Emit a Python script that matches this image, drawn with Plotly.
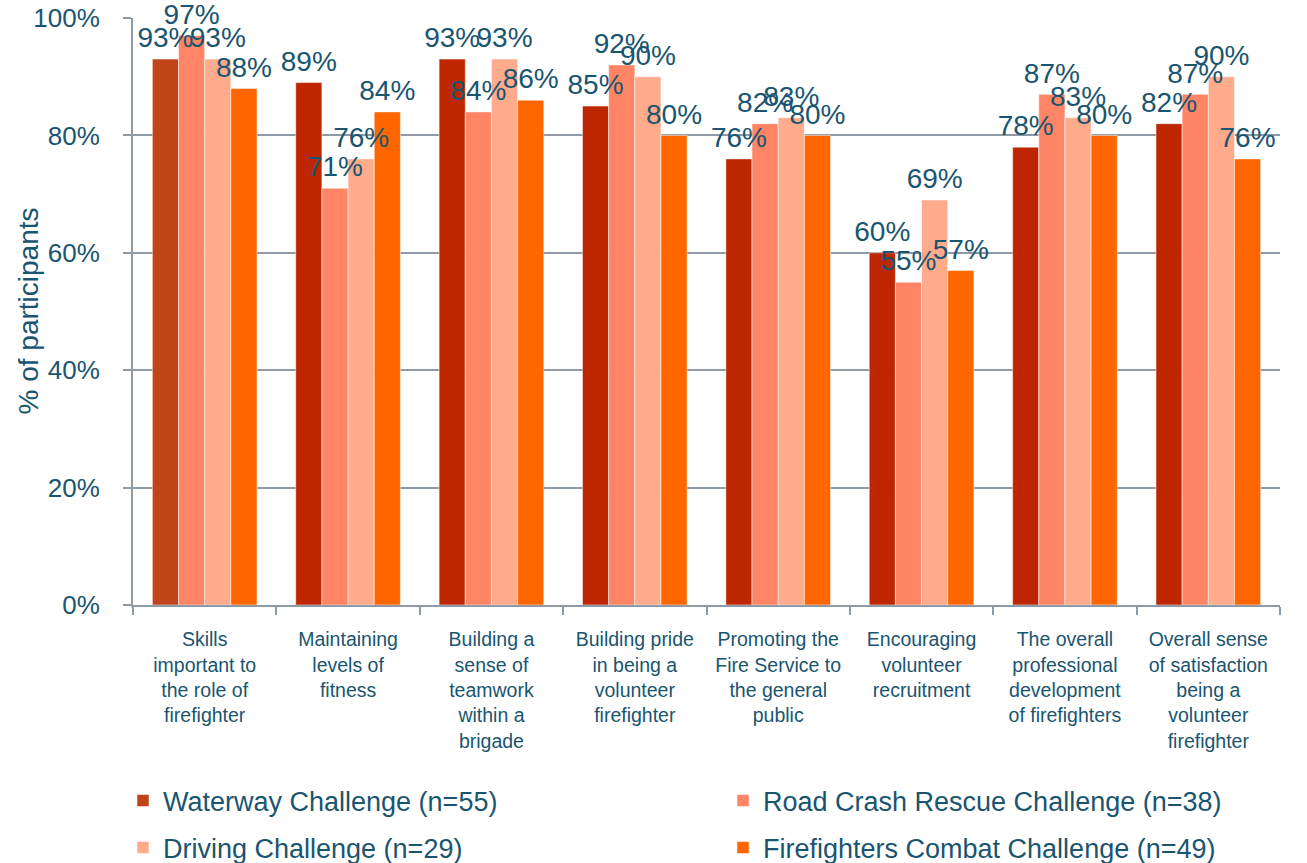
import plotly.graph_objects as go

categories = [
    "Skills<br>important to<br>the role of<br>firefighter",
    "Maintaining<br>levels of<br>fitness",
    "Building a<br>sense of<br>teamwork<br>within a<br>brigade",
    "Building pride<br>in being a<br>volunteer<br>firefighter",
    "Promoting the<br>Fire Service to<br>the general<br>public",
    "Encouraging<br>volunteer<br>recruitment",
    "The overall<br>professional<br>development<br>of firefighters",
    "Overall sense<br>of satisfaction<br>being a<br>volunteer<br>firefighter",
]

waterway = [93, 89, 93, 85, 76, 60, 78, 82]
road_crash = [97, 71, 84, 92, 82, 55, 87, 87]
driving = [93, 76, 93, 90, 83, 69, 83, 90]
combat = [88, 84, 86, 80, 80, 57, 80, 76]

y_ticks = [0, 20, 40, 60, 80, 100]
y_ticktext = ["0%", "20%", "40%", "60%", "80%", "100%"]

series = [
    ("Waterway Challenge (n=55)", waterway, "#BE2600"),
    ("Road Crash Rescue Challenge (n=38)", road_crash, "#FF8566"),
    ("Driving Challenge (n=29)", driving, "#FFAB8C"),
    ("Firefighters Combat Challenge (n=49)", combat, "#FF6600"),
]

text_col = "#1A5570"
grid_col = "#8E9BA6"
font = "Liberation Sans, Arial, sans-serif"
W, H = 1307, 863

# one legend per entry so the 2x2 layout sits where the original has it
# (left px of legend box, centre y px)
legend_pos = [(123, 801), (723, 801), (123, 848), (723, 848)]
legend_ids = ["legend", "legend2", "legend3", "legend4"]

fig = go.Figure()
for i, ((name, vals, col), leg) in enumerate(zip(series, legend_ids)):
    colors = [col] * len(vals)
    if name.startswith("Waterway"):
        # first bar is a slightly different shade in the original
        colors[0] = "#C0441A"
    fig.add_trace(go.Bar(
        x=categories,
        y=vals,
        name=name,
        legend=leg,
        offsetgroup=str(i),
        marker=dict(color=colors, line=dict(color="rgba(255,255,255,0.5)", width=1)),
        hoverinfo="x+y",
    ))
    # value labels above the bar tops
    fig.add_trace(go.Scatter(
        x=categories,
        y=vals,
        offsetgroup=str(i),
        mode="markers+text",
        marker=dict(size=6, opacity=0),
        text=[f"{v}%" for v in vals],
        textposition="top center",
        textfont=dict(family=font, size=28, color=text_col),
        cliponaxis=False,
        showlegend=False,
        hoverinfo="skip",
    ))

legends = {}
for leg, (px, py) in zip(legend_ids, legend_pos):
    legends[leg] = dict(
        xref="container", yref="container",
        x=px / W, y=(H - py) / H,
        xanchor="left", yanchor="middle",
        orientation="h",
        font=dict(family=font, size=27, color=text_col),
        itemwidth=30,
        bgcolor="rgba(0,0,0,0)",
    )

fig.update_layout(
    width=W,
    height=H,
    barmode="group",
    scattermode="group",
    bargap=0.27,
    bargroupgap=0,
    plot_bgcolor="white",
    paper_bgcolor="white",
    font=dict(family=font, color=text_col),
    margin=dict(l=133, r=27, t=18, b=258),
    showlegend=True,
    annotations=[dict(
        text="% of participants",
        xref="paper", yref="paper",
        x=(28 - 133) / 1147, y=0.5,
        xanchor="center", yanchor="middle",
        textangle=-90,
        showarrow=False,
        font=dict(family=font, size=28, color=text_col),
    )],
    **legends,
)

fig.update_xaxes(
    automargin=False,
    showline=True,
    linecolor=grid_col,
    linewidth=2,
    ticks="outside",
    tickson="boundaries",
    ticklen=8,
    tickcolor=grid_col,
    tickwidth=2,
    ticklabelstandoff=16,
    tickfont=dict(family=font, size=19.5, color=text_col),
    showgrid=False,
)

fig.update_yaxes(
    automargin=False,
    range=[0, 100],
    tickvals=y_ticks,
    ticktext=y_ticktext,
    ticklabeloverflow="allow",
    showline=True,
    linecolor=grid_col,
    linewidth=2,
    ticks="outside",
    ticklen=8,
    tickcolor=grid_col,
    tickwidth=2,
    ticklabelstandoff=18,
    showgrid=True,
    gridcolor=grid_col,
    gridwidth=2,
    zeroline=False,
    tickfont=dict(family=font, size=26, color=text_col),
)

# drop the browser's default body margin so the figure fills the window
fig.write_html(
    "out.html",
    config={"displayModeBar": False},
    post_script="document.body.style.margin = '0';",
)
